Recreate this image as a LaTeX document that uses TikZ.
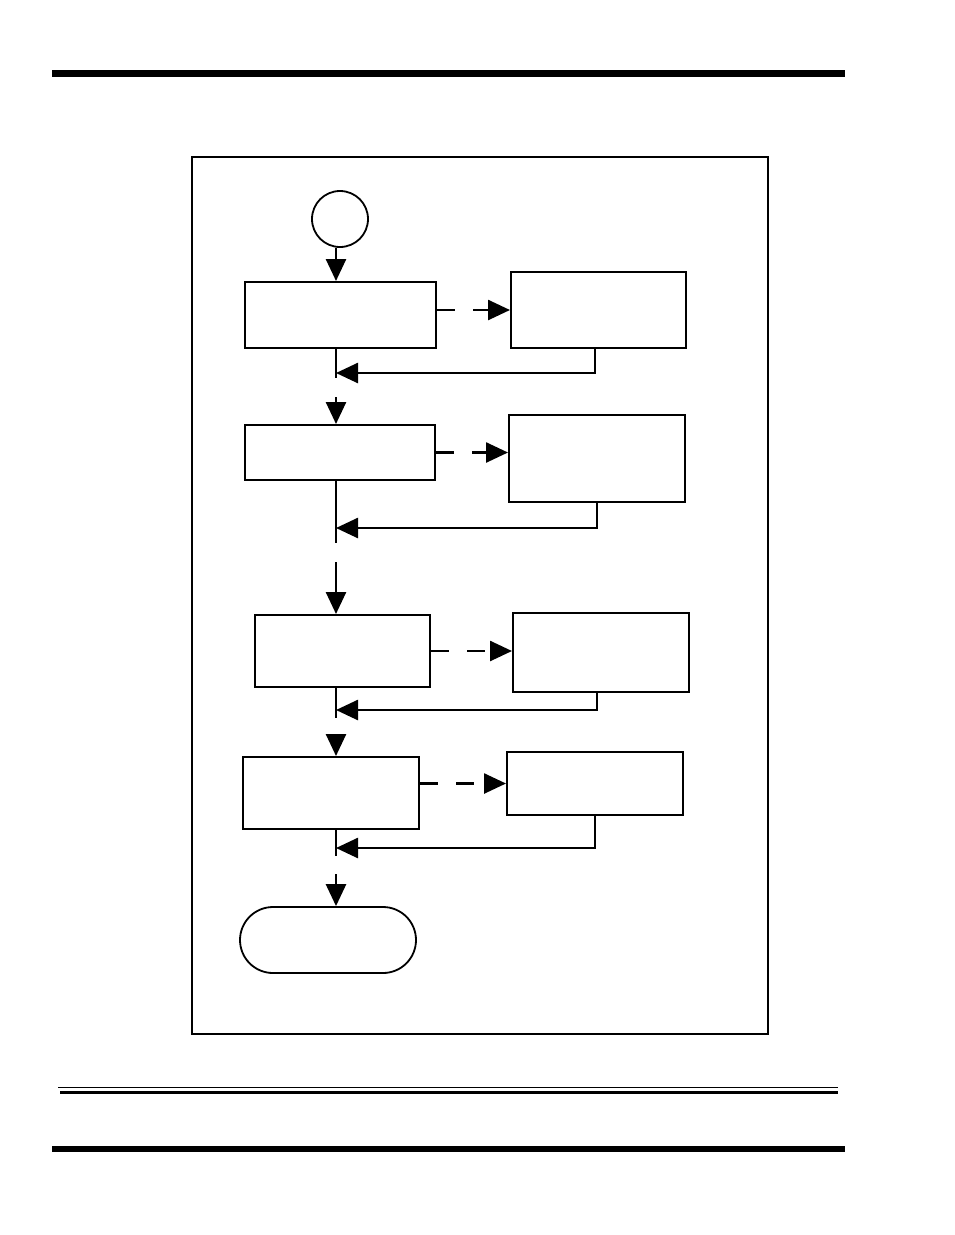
\documentclass[tikz,border=0pt]{standalone}
\usetikzlibrary{arrows.meta,positioning}

\begin{document}
\begin{tikzpicture}[x=1pt, y=-1pt,
    box/.style={draw, line width=2pt, inner sep=0pt},
    term/.style={draw, line width=1.8pt, rounded corners=33pt, inner sep=0pt},
    flow/.style={line width=2.6pt},
    arr/.style={flow, -{Triangle[length=22pt,width=20pt]}},
    call/.style={arr, dash pattern=on 18pt off 18pt},
    pagerule/.style={fill=black}
  ]
    \useasboundingbox (0,0) rectangle (954,1235);

    % page rules
    \fill[pagerule] (52,70) rectangle (845,77);
    \draw[line width=0.8pt] (58,1087) -- (838,1087);
    \fill[pagerule] (60,1091) rectangle (838,1094);
    \fill[pagerule] (52,1146) rectangle (845,1152);

    % frame
    \draw[line width=1.4pt] (192,157) rectangle (768,1034);

    % main column
    \node[circle, draw, line width=1.8pt, minimum size=56pt, inner sep=0pt] (start) at (340,219) {};
    \node[box, minimum width=191pt, minimum height=66pt] (b1) at (340.5,315) {};
    \node[box, minimum width=190pt, minimum height=55pt] (b2) at (340,452.5) {};
    \node[box, minimum width=175pt, minimum height=72pt] (b3) at (342.5,651) {};
    \node[box, minimum width=176pt, minimum height=72pt] (b4) at (331,793) {};
    \node[term, minimum width=176pt, minimum height=66pt] (done) at (328,940) {};

    % side boxes
    \node[box, minimum width=175pt, minimum height=76pt] (a1) at (598.5,310) {};
    \node[box, minimum width=176pt, minimum height=87pt] (a2) at (597,458.5) {};
    \node[box, minimum width=176pt, minimum height=79pt] (a3) at (601,652.5) {};
    \node[box, minimum width=176pt, minimum height=63pt] (a4) at (595,783.5) {};

    % trunk points
    \coordinate (trunk) at (336,0);
    \coordinate (r1) at (336,373);  \coordinate (t1) at (336,378);  \coordinate (s1) at (336,397);
    \coordinate (r2) at (336,528);  \coordinate (t2) at (336,543);  \coordinate (s2) at (336,562);
    \coordinate (r3) at (336,710);  \coordinate (t3) at (336,718);  \coordinate (s3) at (336,735);
    \coordinate (r4) at (336,848);  \coordinate (t4) at (336,856);  \coordinate (s4) at (336,874);

    % flow down
    \draw[arr] (start.south -| trunk) -- (b1.north -| trunk);
    \draw[flow] (b1.south -| trunk) -- (t1);
    \draw[arr] (s1) -- (b2.north -| trunk);
    \draw[flow] (b2.south -| trunk) -- (t2);
    \draw[arr] (s2) -- (b3.north -| trunk);
    \draw[flow] (b3.south -| trunk) -- (t3);
    \draw[arr] (s3) -- (b4.north -| trunk);
    \draw[flow] (b4.south -| trunk) -- (t4);
    \draw[arr] (s4) -- (done.north -| trunk);

    % calls out and back
    \draw[call] (b1.east |- a1.west) -- (a1.west);
    \draw[arr] ([xshift=-3.5pt]a1.south) |- (r1);
    \draw[call] (b2.east) -- (b2.east -| a2.west);
    \draw[arr] (a2.south) |- (r2);
    \draw[call] (b3.east) -- (b3.east -| a3.west);
    \draw[arr] ([xshift=-4pt]a3.south) |- (r3);
    \draw[call] (b4.east |- a4.west) -- (a4.west);
    \draw[arr] (a4.south) |- (r4);

  \end{tikzpicture}
\end{document}
